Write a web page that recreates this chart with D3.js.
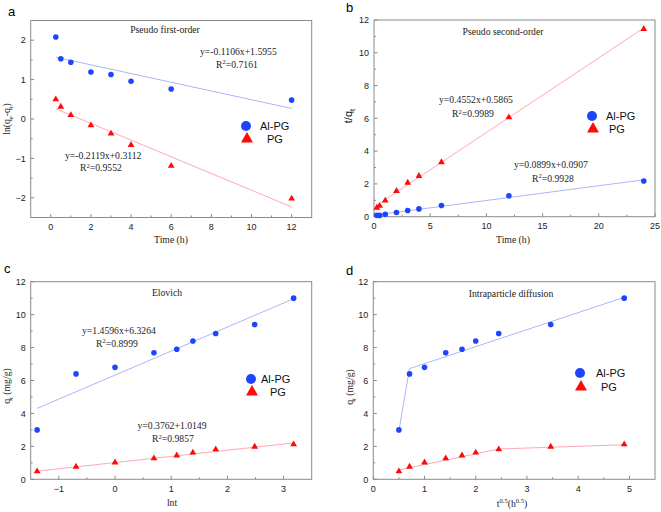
<!DOCTYPE html>
<html><head><meta charset="utf-8">
<script src="https://cdn.jsdelivr.net/npm/d3@7"></script>
<style>
body{margin:0;background:#fff;}
svg{display:block;}
.tick-l{font-family:"Liberation Sans",Arial,sans-serif;font-size:9px;fill:#222;}
.serif{font-family:"Liberation Serif","Times New Roman",serif;font-size:9.7px;fill:#222;}
.leg{font-family:"Liberation Sans",Arial,sans-serif;font-size:11px;fill:#111;}
.panel{font-family:"Liberation Sans",Arial,sans-serif;font-size:13px;fill:#000;}
</style></head>
<body>
<script>
// ---------- data ----------
const timeH = [0.25, 0.5, 1, 2, 3, 4, 6, 12, 24];
const timeA = [0.25, 0.5, 1, 2, 3, 4, 6, 12];
const lnqAl = [2.08, 1.53, 1.44, 1.19, 1.13, 0.96, 0.76, 0.48];
const lnqPG = [0.50, 0.31, 0.10, -0.16, -0.37, -0.66, -1.19, -2.02];
const tqAl = [0.083, 0.078, 0.147, 0.26, 0.38, 0.476, 0.678, 1.277, 2.18];
const tqPG = [0.55, 0.66, 0.98, 1.57, 2.07, 2.48, 3.32, 6.06, 11.45];
const lnt = [-1.386, -0.693, 0, 0.693, 1.099, 1.386, 1.792, 2.485, 3.178];
const sqrtT = [0.5, 0.707, 1, 1.414, 1.732, 2, 2.449, 3.464, 4.899];
const qtAl = [3.0, 6.4, 6.8, 7.68, 7.9, 8.4, 8.85, 9.4, 11.0];
const qtPG = [0.48, 0.76, 1.02, 1.27, 1.45, 1.62, 1.82, 1.98, 2.12];
// fitted lines [slope, intercept]
const fitA = {al: [-0.1106, 1.5955], pg: [-0.2119, 0.3112]};
const fitB = {al: [0.0899, 0.0907], pg: [0.4552, 0.5865]};
const fitC = {al: [1.4596, 6.3264], pg: [0.3762, 1.0149]};
// intraparticle diffusion piecewise fits
const fitDAl = [[0.5, 2.95], [0.707, 6.72], [4.899, 11.05]];
const fitDPG = [[0.5, 0.57], [2.449, 1.84], [4.899, 2.1]];
const seriesNames = ["Al-PG", "PG"];

const BLUE = "#1f45fc", RED = "#ff0a0a", LBLUE = "#aab6fa", LRED = "#ffa9b6", AXC = "#8a8a8a";

const svg = d3.select("body").append("svg").attr("width", 661).attr("height", 512);

function panel(o) {
  const x = d3.scaleLinear().domain(o.xd).range(o.xr);
  const y = d3.scaleLinear().domain(o.yd).range(o.yr);
  const g = svg.append("g");
  const xMaj = d3.range(o.xt[0], o.xt[1] + 1e-9, o.xt[2]);
  const xMin = d3.range(o.xt[0] - o.xt[2] / 2, o.xd[1], o.xt[2]).filter(v => v > o.xd[0] && v < o.xd[1]);
  const yMaj = d3.range(o.yt[0], o.yt[1] + 1e-9, o.yt[2]);
  const yMin = d3.range(o.yt[0] - o.yt[2] / 2, o.yd[1], o.yt[2]).filter(v => v > o.yd[0] && v < o.yd[1]);
  const y0 = o.yr[0], x0 = o.xr[0];
  xMaj.forEach(v => g.append("line").attr("x1", x(v)).attr("x2", x(v)).attr("y1", y0).attr("y2", y0 - 3.5).attr("stroke", AXC));
  xMin.forEach(v => g.append("line").attr("x1", x(v)).attr("x2", x(v)).attr("y1", y0).attr("y2", y0 - 2).attr("stroke", AXC));
  yMaj.forEach(v => g.append("line").attr("y1", y(v)).attr("y2", y(v)).attr("x1", x0).attr("x2", x0 + 3.5).attr("stroke", AXC));
  yMin.forEach(v => g.append("line").attr("y1", y(v)).attr("y2", y(v)).attr("x1", x0).attr("x2", x0 + 2).attr("stroke", AXC));
  xMaj.forEach(v => g.append("text").attr("class", "tick-l").attr("x", x(v)).attr("y", y0 + 12.5).attr("text-anchor", "middle").text(d3.format("~g")(+v.toFixed(4))));
  yMaj.forEach(v => g.append("text").attr("class", "tick-l").attr("x", x0 - 5).attr("y", y(v) + 3.2).attr("text-anchor", "end").text(d3.format("~g")(+v.toFixed(4))));
  g.append("rect").attr("x", o.xr[0]).attr("y", o.yr[1]).attr("width", o.xr[1] - o.xr[0]).attr("height", o.yr[0] - o.yr[1])
    .attr("fill", "none").attr("stroke", AXC).attr("stroke-width", 1);
  return {x, y, g};
}

function fitLine(p, f, x0, x1, col) {
  p.g.append("line").attr("x1", p.x(x0)).attr("y1", p.y(f[0] * x0 + f[1])).attr("x2", p.x(x1)).attr("y2", p.y(f[0] * x1 + f[1]))
    .attr("stroke", col).attr("stroke-width", 1);
}
function polyLine(p, pts, col) {
  p.g.append("path").attr("d", d3.line().x(d => p.x(d[0])).y(d => p.y(d[1]))(pts)).attr("fill", "none").attr("stroke", col).attr("stroke-width", 1);
}
function circles(p, xs, ys) {
  xs.forEach((v, i) => p.g.append("circle").attr("cx", p.x(v)).attr("cy", p.y(ys[i])).attr("r", 2.8).attr("fill", BLUE));
}
const triSmall = d3.symbol().type(d3.symbolTriangle).size(20);
const triBig = d3.symbol().type(d3.symbolTriangle).size(62);
function tris(p, xs, ys) {
  xs.forEach((v, i) => p.g.append("path").attr("d", triSmall()).attr("transform", `translate(${p.x(v)},${p.y(ys[i])})`).attr("fill", RED));
}
function legend(cx, cy, tx1, tx2, dy) {
  svg.append("circle").attr("cx", cx).attr("cy", cy).attr("r", 5).attr("fill", BLUE);
  svg.append("text").attr("class", "leg").attr("x", tx1).attr("y", cy + 4).text(seriesNames[0]);
  svg.append("path").attr("d", triBig()).attr("transform", `translate(${cx + 1},${cy + dy})`).attr("fill", RED);
  svg.append("text").attr("class", "leg").attr("x", tx2).attr("y", cy + dy + 4).text(seriesNames[1]);
}
// parts: strings (normal) or {t, dy} (sub/superscript); shift is undone on the next normal part
function stext(x, y, parts, anchor, rot) {
  const t = svg.append("text").attr("class", "serif").attr("x", x).attr("y", y).attr("text-anchor", anchor || "start");
  if (rot) t.attr("transform", `rotate(-90,${x},${y})`);
  let pending = 0;
  parts.forEach(p => {
    if (typeof p === "string") {
      const s = t.append("tspan").text(p);
      if (pending) { s.attr("dy", -pending); pending = 0; }
    } else {
      t.append("tspan").attr("dy", p.dy - pending).attr("font-size", "6.5px").text(p.t);
      pending = p.dy;
    }
  });
  return t;
}
function r2(x, y, val) { stext(x, y, ["R", {t: "2", dy: -3.5}, "=" + val]); }
function panelLetter(x, y, s) { svg.append("text").attr("class", "panel").attr("x", x).attr("y", y).text(s); }

// ---------- panel a ----------
const pa = panel({xd: [-1, 13], xr: [30.7, 311.7], yd: [-2.5, 2.5], yr: [217.5, 20.5], xt: [0, 12, 2], yt: [-2, 2, 1]});
fitLine(pa, fitA.al, 0.25, 12, LBLUE);
fitLine(pa, fitA.pg, 0.25, 12, LRED);
circles(pa, timeA, lnqAl);
tris(pa, timeA, lnqPG);
panelLetter(8, 16, "a");
stext(165, 33, ["Pseudo first-order"], "middle");
stext(200, 55, ["y=-0.1106x+1.5955"]);
r2(216, 67.5, "0.7161");
stext(65, 159, ["y=-0.2119x+0.3112"]);
r2(80, 171, "0.9552");
legend(246, 126, 260, 267, 13);
stext(171, 243, ["Time (h)"], "middle");
stext(10, 119, ["ln(q", {t: "e", dy: 2.5}, "-q", {t: "t", dy: 2.5}, ")"], "middle", true);

// ---------- panel b ----------
const pb = panel({xd: [0, 25], xr: [374, 655], yd: [0, 12], yr: [216.7, 20], xt: [0, 25, 5], yt: [0, 12, 2]});
fitLine(pb, fitB.pg, 0.25, 24, LRED);
fitLine(pb, fitB.al, 0.25, 24, LBLUE);
circles(pb, timeH, tqAl);
tris(pb, timeH, tqPG);
panelLetter(346, 12, "b");
stext(503, 35, ["Pseudo second-order"], "middle");
stext(439, 103, ["y=0.4552x+0.5865"]);
r2(452, 117, "0.9989");
stext(514, 167.5, ["y=0.0899x+0.0907"]);
r2(532, 181.5, "0.9928");
legend(592, 116, 606, 609, 13);
stext(513, 243, ["Time (h)"], "middle");
{
  const t = svg.append("text").attr("class", "leg").attr("x", 352).attr("y", 116).attr("text-anchor", "middle")
    .attr("transform", "rotate(-90,352,116)");
  t.append("tspan").text("t/q");
  t.append("tspan").attr("dy", 2.5).attr("font-size", "8px").text("t");
}

// ---------- panel c ----------
const pc = panel({xd: [-1.5, 3.5], xr: [30.7, 311.7], yd: [0, 12], yr: [479.3, 281.7], xt: [-1, 3, 1], yt: [0, 12, 2]});
fitLine(pc, fitC.al, -1.386, 3.178, LBLUE);
fitLine(pc, fitC.pg, -1.386, 3.178, LRED);
circles(pc, lnt, qtAl);
tris(pc, lnt, qtPG);
panelLetter(4, 273, "c");
stext(167, 296, ["Elovich"], "middle");
stext(82, 333.5, ["y=1.4596x+6.3264"]);
r2(96, 346.5, "0.8999");
stext(137.5, 428.5, ["y=0.3762+1.0149"]);
r2(152, 442, "0.9857");
legend(251, 379, 261, 270, 13);
stext(172, 506, ["lnt"], "middle");
stext(10, 386, ["q", {t: "t", dy: 2.5}, " (mg/g)"], "middle", true);

// ---------- panel d ----------
const pd = panel({xd: [0, 5.5], xr: [373.3, 655], yd: [0, 12], yr: [479.3, 281.7], xt: [0, 5, 1], yt: [0, 12, 2]});
polyLine(pd, fitDAl, LBLUE);
polyLine(pd, fitDPG, LRED);
circles(pd, sqrtT, qtAl);
tris(pd, sqrtT, qtPG);
panelLetter(346, 275, "d");
stext(511, 296.5, ["Intraparticle diffusion"], "middle");
legend(580, 373, 596, 601, 14);
stext(512, 506.5, ["t", {t: "0.5", dy: -3.5}, "(h", {t: "0.5", dy: -3.5}, ")"], "middle");
stext(353, 387, ["q", {t: "t", dy: 2.5}, " (mg/g)"], "middle", true);
</script>
</body></html>
